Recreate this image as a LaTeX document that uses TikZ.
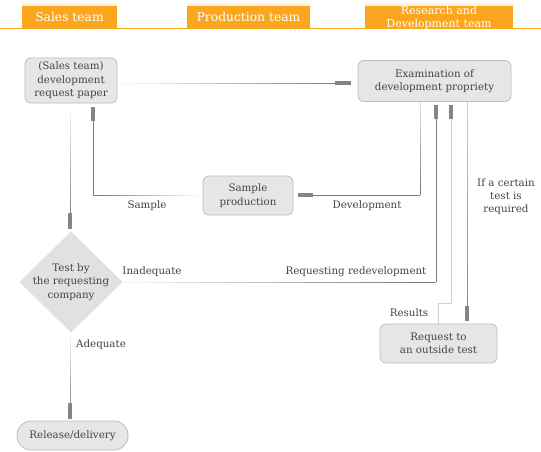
\documentclass[tikz,border=0pt]{standalone}
\usepackage{fontspec}
\setmainfont{DejaVu Serif}
\usetikzlibrary{calc}
\definecolor{hdrorange}{HTML}{FAA61E}
\definecolor{boxfill}{HTML}{E6E6E6}
\definecolor{boxborder}{HTML}{BDBDBD}
\definecolor{diafill}{HTML}{E1E1E1}
\definecolor{txt}{HTML}{444444}
\definecolor{linegray}{HTML}{7A7A7A}
\definecolor{bargray}{HTML}{858585}
\newcommand{\gline}[4]{%
  \foreach \k in {0,...,11} {%
    \pgfmathsetmacro\gta{\k/12}%
    \pgfmathsetmacro\gtb{(\k+1)/12}%
    \pgfmathsetmacro\gsh{#3+(#4-#3)*\k/11}%
    \draw[line width=0.9pt, draw=linegray!\gsh] ($(#1)!\gta!(#2)$) -- ($(#1)!\gtb!(#2)$);
  }%
}
\begin{document}
\begin{tikzpicture}[x=1pt,y=-1pt,
  box/.style={draw=boxborder, fill=boxfill, rounded corners=6pt, line width=0.8pt,
    align=center, font=\fontsize{10.3}{13.5}\selectfont, text=txt, inner sep=0pt},
  lbl/.style={font=\fontsize{10.3}{13}\selectfont, text=txt, align=center, inner sep=0pt},
  hdr/.style={fill=hdrorange, minimum height=28.5pt, inner sep=0pt, anchor=north west,
    path picture={\shade[top color=white, bottom color=hdrorange]
      (path picture bounding box.north west) rectangle ([yshift=-5pt]path picture bounding box.north east);}},
  hdrtext/.style={text=white, inner sep=0pt, align=center},
  conn/.style={line width=0.9pt, draw=linegray},
  endbar/.style={line width=3.5pt, draw=bargray},
]
\useasboundingbox (0,0) rectangle (541,452);
\fill[white] (0,0) rectangle (541,452);

% headers
\node[hdr, minimum width=95pt] (hs) at (22,0) {};
\node[hdr, minimum width=123pt] (hp) at (187,0) {};
\node[hdr, minimum width=148pt] (hr) at (365,0) {};
\draw[hdrorange, line width=1pt] (0,28.5) -- (541,28.5);
\node[hdrtext, font=\fontsize{12.3}{13}\selectfont] (ths) at (69.5,16.5) {Sales team};
\node[hdrtext, font=\fontsize{12.3}{13}\selectfont] (thp) at (248.5,16.5) {Production team};
\node[hdrtext, font=\fontsize{11}{13}\selectfont] (thr) at (439,17.5) {Research and\\Development team};

% nodes
\node[box, minimum width=92pt, minimum height=45pt] (req) at (71,80.5) {(Sales team)\\development\\request paper};
\node[box, minimum width=153pt, minimum height=41pt] (exam) at (434.5,81) {Examination of\\development propriety};
\node[box, minimum width=90pt, minimum height=39pt] (samp) at (248,195.5) {Sample\\production};
\coordinate (dN) at (71,231.5);
\coordinate (dE) at (122.5,282);
\coordinate (dS) at (71,332.5);
\coordinate (dW) at (19.5,282);
\fill[diafill] (dN) -- (dE) -- (dS) -- (dW) -- cycle;
\node[lbl, font=\fontsize{10.3}{13.5}\selectfont] (test) at (71,282) {Test by\\the requesting\\company};
\node[box, rounded corners=14pt, minimum width=111pt, minimum height=29pt] (rel) at (72.5,435.5) {Release/delivery};
\node[box, minimum width=117pt, minimum height=39pt] (out) at (438.5,343.5) {Request to\\an outside test};

% 1 request paper -> examination
\coordinate (r1) at (121,83);
\coordinate (r2) at (351,83);
\gline{r1}{r2}{6}{100}
\draw[endbar] ($(r2)+(-16,0)$) -- (r2);

% 2 examination -> sample production
\coordinate (d1) at (420,102);
\coordinate (d2) at (420,195);
\coordinate (d3) at (298,195);
\gline{d1}{d2}{25}{100}
\draw[conn] (d2) -- (d3);
\draw[endbar] ($(d3)+(15,0)$) -- (d3);

% 3 sample production -> request paper
\coordinate (s1) at (200,195);
\coordinate (s2) at (93,195);
\coordinate (s3) at (93,107);
\gline{s1}{s2}{6}{100}
\draw[conn] (s2) -- (s3);
\draw[endbar] ($(s3)+(0,14)$) -- (s3);

% 4 request paper -> test
\coordinate (v1) at (70,110);
\coordinate (v2) at (70,229);
\gline{v1}{v2}{12}{100}
\draw[endbar] ($(v2)+(0,-16)$) -- (v2);

% 5 test -> examination (inadequate)
\coordinate (i1) at (dE);
\coordinate (i2) at (436,282);
\coordinate (i3) at (436,105);
\gline{i1}{i2}{8}{100}
\draw[conn] (i2) -- (i3);
\draw[endbar] ($(i3)+(0,14)$) -- (i3);

% 6 examination -> outside test
\coordinate (t1) at (467,102);
\coordinate (t2) at (467,321);
\gline{t1}{t2}{40}{90}
\draw[endbar] ($(t2)+(0,-15)$) -- (t2);

% 7 outside test -> examination (results)
\coordinate (q1) at (438,323.5);
\coordinate (q2) at (438,303);
\coordinate (q3) at (451,303);
\coordinate (q4) at (451,105);
\draw[line width=0.9pt, draw=linegray!35] (q1) -- (q2) -- (q3) -- (q4);
\draw[endbar] ($(q4)+(0,14)$) -- (q4);

% 8 test -> release
\coordinate (w1) at (70,334);
\coordinate (w2) at (70,419);
\gline{w1}{w2}{8}{100}
\draw[endbar] ($(w2)+(0,-16)$) -- (w2);

% labels
\node[lbl] (lsample) at (147,206) {Sample};
\node[lbl] (ldev) at (367,206) {Development};
\node[lbl] (linad) at (152,271.5) {Inadequate};
\node[lbl] (lredev) at (356,271.5) {Requesting redevelopment};
\node[lbl] (lif) at (506,197) {If a certain\\test is\\required};
\node[lbl] (lres) at (409,313) {Results};
\node[lbl] (ladeq) at (101,344.5) {Adequate};
\end{tikzpicture}
\end{document}
